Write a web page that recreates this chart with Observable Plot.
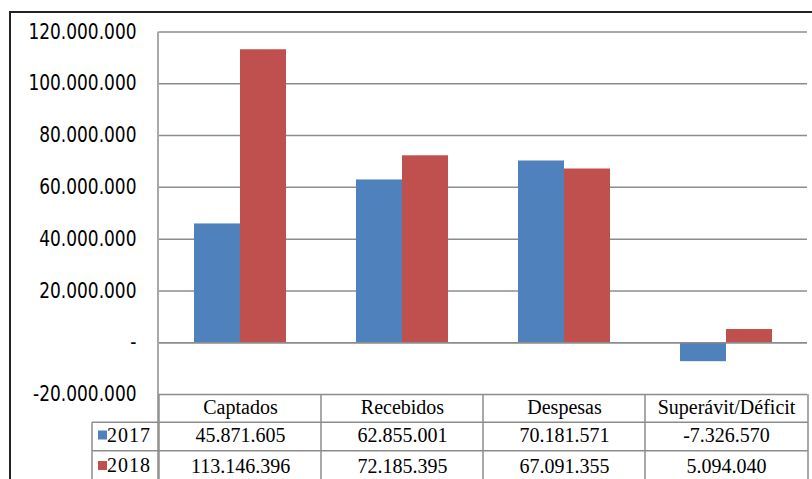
<!DOCTYPE html>
<html><head><meta charset="utf-8">
<script src="https://cdn.jsdelivr.net/npm/d3@7"></script>
<script src="https://cdn.jsdelivr.net/npm/@observablehq/plot@0.6"></script>
<style>
body{margin:0;background:#fff;}
#wrap{position:relative;width:812px;height:479px;overflow:hidden;background:#fff;}
#wrap svg{position:absolute;left:0;top:0;}
#border{position:absolute;left:9px;top:11px;width:900px;height:600px;border-top:2px solid #222;border-left:2px solid #222;z-index:2;}
#wrap svg .serif, #wrap svg .serif text{font-family:"Liberation Serif","Times New Roman",Times,serif !important;}
</style></head><body><div id="wrap"><div id="border"></div></div>
<script>
const categories = ["Captados", "Recebidos", "Despesas", "Superávit/Déficit"];
const years = ["2017", "2018"];
const values2017 = [45871605, 62855001, 70181571, -7326570];
const values2018 = [113146396, 72185395, 67091355, 5094040];
const yTicks = [-20000000, 0, 20000000, 40000000, 60000000, 80000000, 100000000, 120000000];
const colors = ["#4F81BD", "#C0504D"];

const rows = [];
categories.forEach((c, i) => {
  rows.push({category: c, year: "2017", value: values2017[i]});
  rows.push({category: c, year: "2018", value: values2018[i]});
});

const locale = d3.formatLocale({decimal: ",", thousands: ".", grouping: [3], currency: ["", ""], minus: "-"});
const f = locale.format(",");
const fmt = v => v === 0 ? "-" : f(v);

const W = 812, H = 479, mTop = 31.5, mBottom = 85, mLeft = 158, mRight = 4;
const rowH = mBottom / 3;
const tableFont = 20;
const gridColor = "#8c8c8c";
const rowDy = [13.5, 41.5, 72];

const plot = Plot.plot({
  width: W, height: H,
  marginLeft: mLeft, marginRight: mRight, marginTop: mTop, marginBottom: mBottom,
  style: {fontFamily: "DejaVu Sans", fontSize: "17px", color: "#000", background: "transparent", overflow: "visible"},
  fx: {domain: categories, padding: 0, axis: null, label: null},
  x: {domain: years, paddingInner: 0, paddingOuter: 0.76, axis: null},
  y: {domain: [-20000000, 120000000], ticks: yTicks, tickSize: 0, tickPadding: 23, tickFormat: fmt, label: null},
  color: {domain: years, range: colors},
  marks: [
    Plot.ruleY(yTicks, {stroke: gridColor, strokeWidth: 1.5}),
    Plot.barY(rows, {fx: "category", x: "year", y: "value", fill: "year"}),
    Plot.ruleY([0], {stroke: gridColor, strokeWidth: 1.5}),
    Plot.text(categories, {fx: d => d, text: d => d, frameAnchor: "bottom", lineAnchor: "middle", dy: rowDy[0], fontSize: tableFont, fill: "#000", className: "serif"}),
    Plot.text(rows.filter(d => d.year === "2017"), {fx: "category", text: d => fmt(d.value), frameAnchor: "bottom", lineAnchor: "middle", dy: rowDy[1], fontSize: tableFont, fill: "#000", className: "serif"}),
    Plot.text(rows.filter(d => d.year === "2018"), {fx: "category", text: d => fmt(d.value), frameAnchor: "bottom", lineAnchor: "middle", dy: rowDy[2], fontSize: tableFont, fill: "#000", className: "serif"})
  ]
});

document.getElementById("wrap").appendChild(plot);

const svg = d3.select(plot);
const serifCss = '"Liberation Serif", "Times New Roman", Times, serif';
// table texts: force serif font
svg.selectAll('[aria-label="text"] text').each(function() {
  this.style.fontFamily = serifCss;
});
// stretch the y tick labels vertically (reference font is narrow and tall)
svg.selectAll('[aria-label^="y-axis"] text').each(function() {
  const t = this.getAttribute("transform") || "";
  this.setAttribute("transform", (t + " scale(1,1.22)").trim());
});

// table grid and legend column
const ys = plot.scale("y");
const fxs = plot.scale("fx");
const x0 = fxs.range[0], x1 = fxs.range[1];
const yTop = ys.apply(120000000), yb = ys.apply(-20000000);
const legendX = 92;
const g = svg.append("g").attr("stroke", gridColor).attr("stroke-width", 1.5).attr("fill", "none");
g.append("line").attr("x1", x0).attr("x2", x0).attr("y1", yTop).attr("y2", H + 5);
categories.forEach(c => {
  const xx = fxs.apply(c);
  g.append("line").attr("x1", xx).attr("x2", xx).attr("y1", yb).attr("y2", H + 5);
});
g.append("line").attr("x1", x1).attr("x2", x1).attr("y1", yb).attr("y2", H + 5);
[1, 2].forEach(k => {
  g.append("line").attr("x1", legendX).attr("x2", x1).attr("y1", yb + rowH * k).attr("y2", yb + rowH * k);
});
g.append("line").attr("x1", legendX).attr("x2", legendX).attr("y1", yb + rowH).attr("y2", H + 5);

const lg = svg.append("g");
years.forEach((yr, i) => {
  const cy = yb + rowDy[i + 1];
  lg.append("rect").attr("x", 98).attr("y", cy - 5).attr("width", 9).attr("height", 9).attr("fill", colors[i]);
  const t = lg.append("text").attr("x", 107).attr("y", cy).attr("dy", "0.32em")
    .attr("text-anchor", "start")
    .attr("font-size", tableFont).attr("letter-spacing", "1px").attr("fill", "#000").text(yr);
  t.node().style.fontFamily = serifCss;
});
</script>
</body></html>
